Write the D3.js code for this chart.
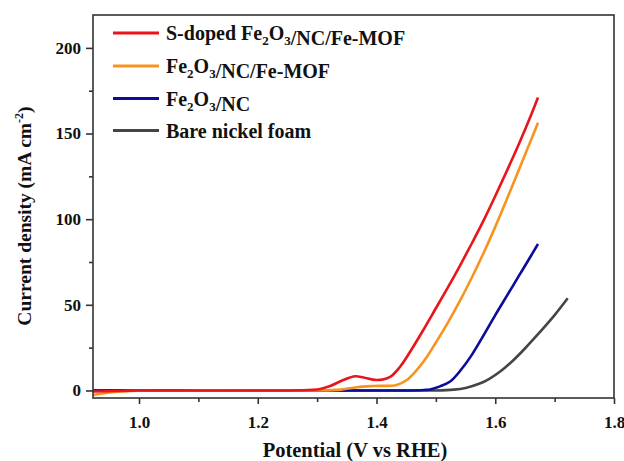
<!DOCTYPE html>
<html>
<head>
<meta charset="utf-8">
<script src="https://cdn.jsdelivr.net/npm/d3@7"></script>
<style>
  html, body { margin: 0; padding: 0; background: #fff; }
  svg { display: block; }
  text { font-family: "Liberation Serif", "Times New Roman", serif; font-weight: bold; fill: #111; }
</style>
</head>
<body>
<svg id="chart" width="624" height="461"></svg>
<script>
// ---- Data ----
const seriesNames = ["S-doped Fe2O3/NC/Fe-MOF", "Fe2O3/NC/Fe-MOF", "Fe2O3/NC", "Bare nickel foam"];
const seriesColors = ["#e8151b", "#f7941d", "#0b0b9c", "#454545"];

const sdopedV = [0.923, 1.0, 1.1, 1.2, 1.27, 1.305, 1.322, 1.344, 1.364, 1.378, 1.40, 1.423, 1.44, 1.46, 1.48, 1.50, 1.52, 1.54, 1.56, 1.58, 1.60, 1.62, 1.64, 1.66, 1.672];
const sdopedJ = [-0.6, 0, 0, 0, 0.1, 0.9, 2.6, 6.1, 8.3, 7.6, 6.1, 8.0, 14, 24.5, 36, 48, 60, 72.5, 85.5, 99, 113.5, 128.5, 144, 160.5, 171];

const femofV = [0.923, 0.95, 0.98, 1.02, 1.2, 1.30, 1.34, 1.367, 1.395, 1.434, 1.451, 1.468, 1.485, 1.50, 1.52, 1.54, 1.56, 1.58, 1.60, 1.62, 1.64, 1.66, 1.672];
const femofJ = [-2.6, -1.2, -0.4, 0, 0, 0, 0.5, 1.9, 2.6, 3.2, 6.1, 12, 19.7, 28, 39.5, 52, 65.5, 80, 95.5, 112, 129, 146, 156.3];

const fencV = [0.923, 1.2, 1.40, 1.45, 1.48, 1.49, 1.507, 1.524, 1.541, 1.56, 1.58, 1.60, 1.62, 1.64, 1.66, 1.672];
const fencJ = [0, 0, 0, 0, 0.3, 0.6, 2.4, 5.2, 11.5, 20.5, 32, 44, 55.5, 67, 78.5, 85.5];

const nickelV = [0.923, 1.2, 1.45, 1.50, 1.53, 1.55, 1.575, 1.59, 1.61, 1.63, 1.65, 1.675, 1.70, 1.722];
const nickelJ = [0, 0, 0, 0, 0.5, 1.5, 4.2, 6.8, 11.5, 17.5, 24.5, 34, 44, 53.8];

const xMajorTicks = [1.0, 1.2, 1.4, 1.6, 1.8];
const xMinorTicks = [1.1, 1.3, 1.5, 1.7];
const yMajorTicks = [0, 50, 100, 150, 200];
const yMinorTicks = [25, 75, 125, 175];

// ---- Build ----
const seriesV = [sdopedV, femofV, fencV, nickelV];
const seriesJ = [sdopedJ, femofJ, fencJ, nickelJ];
const series = seriesNames.map((name, i) => ({
  name, color: seriesColors[i],
  points: seriesV[i].map((v, k) => ({ v, j: seriesJ[i][k] }))
}));

const svg = d3.select("#chart");
const L = 93, R = 614, T = 15, B = 398;
const x = d3.scaleLinear().domain([0.9225, 1.8]).range([L, R]);
const y = d3.scaleLinear().domain([-4.4, 219.2]).range([B, T]);

svg.append("defs").append("clipPath").attr("id", "clip")
  .append("rect").attr("x", L).attr("y", T).attr("width", R - L).attr("height", B - T);

const line = d3.line().x(d => x(d.v)).y(d => y(d.j)).curve(d3.curveCatmullRom.alpha(0.5));

const g = svg.append("g").attr("clip-path", "url(#clip)");
series.slice().reverse().forEach(s => {
  g.append("path").datum(s.points)
    .attr("d", line)
    .attr("fill", "none")
    .attr("stroke", s.color)
    .attr("stroke-width", 2.6)
    .attr("stroke-linejoin", "round");
});

// frame
svg.append("rect").attr("x", L).attr("y", T).attr("width", R - L).attr("height", B - T)
  .attr("fill", "none").attr("stroke", "#333").attr("stroke-width", 1.6);

function styleAxis(sel) {
  sel.select(".domain").remove();
  sel.attr("font-family", null).attr("font-size", null);
  sel.selectAll(".tick line").attr("stroke", "#333").attr("stroke-width", 1.6);
  sel.selectAll(".tick text").attr("font-size", 17).attr("fill", "#111");
}
const xAxis = svg.append("g").attr("transform", `translate(0,${B})`)
  .call(d3.axisBottom(x).tickValues(xMajorTicks).tickFormat(d3.format(".1f")).tickSize(6).tickPadding(12));
styleAxis(xAxis);
const xAxisMinor = svg.append("g").attr("transform", `translate(0,${B})`)
  .call(d3.axisBottom(x).tickValues(xMinorTicks).tickFormat("").tickSize(4));
styleAxis(xAxisMinor);

const yAxis = svg.append("g").attr("transform", `translate(${L},0)`)
  .call(d3.axisLeft(y).tickValues(yMajorTicks).tickFormat(d3.format("d")).tickSize(7).tickPadding(5));
styleAxis(yAxis);
const yAxisMinor = svg.append("g").attr("transform", `translate(${L},0)`)
  .call(d3.axisLeft(y).tickValues(yMinorTicks).tickFormat("").tickSize(4));
styleAxis(yAxisMinor);

// axis titles
svg.append("text").attr("x", 355).attr("y", 457).attr("text-anchor", "middle")
  .attr("font-size", 20.5).text("Potential (V vs RHE)");

const yt = svg.append("text").attr("transform", "translate(31,216) rotate(-90)")
  .attr("text-anchor", "middle").attr("font-size", 19.5);
yt.append("tspan").text("Current density (mA cm");
yt.append("tspan").attr("font-size", 12).attr("dy", -8).text("-2");
yt.append("tspan").attr("dy", 8).text(")");

// legend
function addLabel(sel, name) {
  const parts = name.split(/(Fe2O3)/);
  parts.forEach(p => {
    if (p === "Fe2O3") {
      sel.append("tspan").text("Fe");
      sel.append("tspan").attr("font-size", 13).attr("dy", 5).text("2");
      sel.append("tspan").attr("dy", -5).text("O");
      sel.append("tspan").attr("font-size", 13).attr("dy", 5).text("3");
      sel.append("tspan").attr("dy", -5).text("");
    } else if (p.length) {
      sel.append("tspan").text(p);
    }
  });
}
const legendY = [33, 66, 98.5, 130.5];
series.forEach((s, i) => {
  svg.append("line").attr("x1", 113).attr("x2", 159)
    .attr("y1", legendY[i]).attr("y2", legendY[i])
    .attr("stroke", s.color).attr("stroke-width", 3);
  const t = svg.append("text").attr("x", 166).attr("y", legendY[i] + 7)
    .attr("font-size", 20);
  addLabel(t, s.name);
});
</script>
</body>
</html>
